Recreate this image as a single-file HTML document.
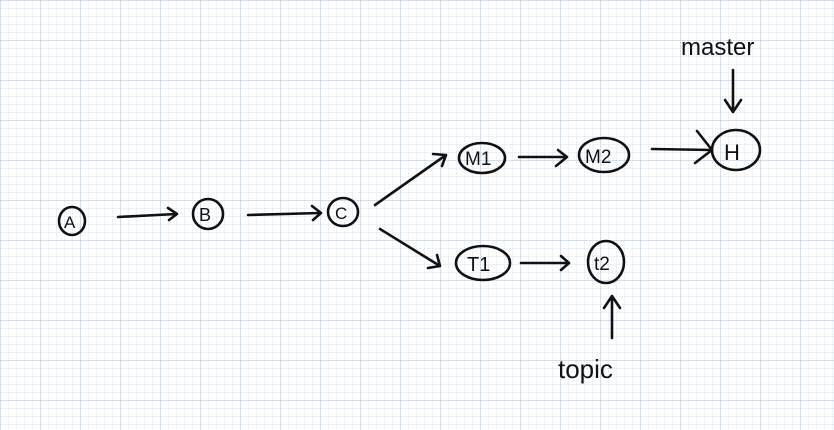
<!DOCTYPE html>
<html><head><meta charset="utf-8"><style>
html,body{margin:0;padding:0;}
body{width:834px;height:430px;overflow:hidden;background:#fff;
background-image:
linear-gradient(to right, rgba(160,195,235,.38) 1px, transparent 1px),
linear-gradient(to bottom, rgba(160,195,235,.38) 1px, transparent 1px),
linear-gradient(to right, rgba(200,222,245,.38) 1px, transparent 1px),
linear-gradient(to bottom, rgba(200,222,245,.38) 1px, transparent 1px);
background-size:40px 40px,40px 40px,8px 8px,8px 8px;}
svg{position:absolute;left:0;top:0}
text{font-family:"Liberation Sans",sans-serif;fill:#111}
</style></head><body>
<svg width="834" height="430" viewBox="0 0 834 430" fill="none" stroke="#111" stroke-width="2.6" stroke-linecap="round" stroke-linejoin="round">
<ellipse cx="72" cy="221" rx="13" ry="14"/>
<ellipse cx="208" cy="214" rx="15" ry="15"/>
<ellipse cx="343" cy="212" rx="15" ry="14"/>
<ellipse cx="482" cy="158" rx="23" ry="15"/>
<ellipse cx="604" cy="155" rx="25" ry="17"/>
<ellipse cx="736" cy="150" rx="24" ry="20"/>
<ellipse cx="483" cy="263" rx="27" ry="17"/>
<ellipse cx="606" cy="262" rx="18" ry="21"/>
<path d="M118 217 L176 214 M168 208 L177 214 L169 220"/>
<path d="M248 215 L320 213 M312 206 L321 213 L313 220"/>
<path d="M375 205 L446 155 M433 154 L446 155 L442 166"/>
<path d="M380 229 L440 266 M428 268 L440 266 L437 255"/>
<path d="M519 157 L566 157 M558 150 L567 157 L556 166"/>
<path d="M652 149 L712 150 M697 131 L712 150 L695 163"/>
<path d="M521 263 L569 263 M561 256 L569 263 L561 270"/>
<path d="M733 70 L733 110 M725 100 L733 112 L741 100"/>
<path d="M612 338 L612 297 M604 308 L612 296 L620 308"/>
<g stroke="none">
<text x="64" y="228" font-size="17">A</text>
<text x="199" y="221" font-size="18">B</text>
<text x="335" y="219" font-size="17">C</text>
<text x="465" y="165" font-size="19">M1</text>
<text x="585" y="163" font-size="19">M2</text>
<text x="724" y="160" font-size="22">H</text>
<text x="467" y="271" font-size="20">T1</text>
<text x="594" y="270" font-size="19">t2</text>
<text x="681" y="55" font-size="24">master</text>
<text x="558" y="378" font-size="26">topic</text>
</g>
</svg>
</body></html>
